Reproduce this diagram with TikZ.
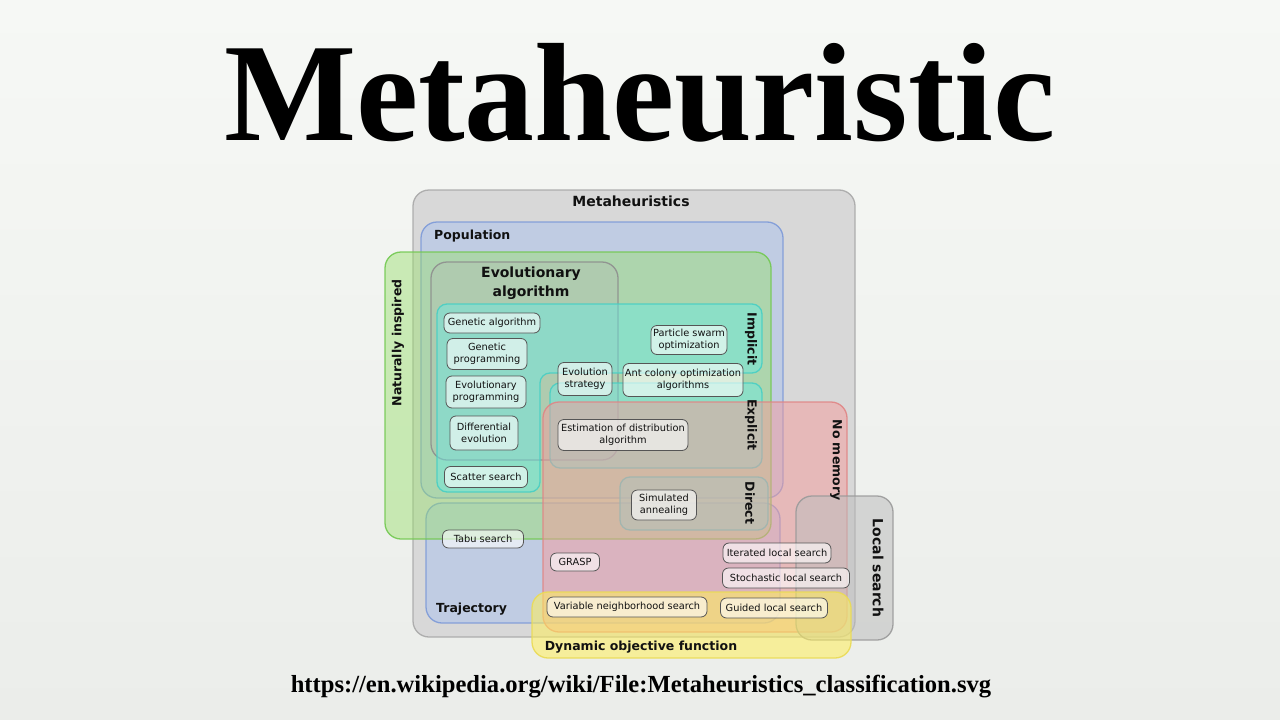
\documentclass[tikz,border=0pt]{standalone}
\usepackage{fontspec}
\setmainfont{Liberation Serif}
\setsansfont{DejaVu Sans}
\usepackage{xcolor}
\usetikzlibrary{positioning}
\definecolor{bgtop}{HTML}{F6F8F5}
\definecolor{bgbot}{HTML}{EBEDEA}
\definecolor{metafill}{HTML}{D8D8D8}
\definecolor{metaline}{HTML}{A8A8A8}
\definecolor{popfill}{HTML}{A9C1EF}
\definecolor{popline}{HTML}{7D9AD8}
\definecolor{natfill}{HTML}{98E06C}
\definecolor{natline}{HTML}{72C850}
\definecolor{evofill}{HTML}{B4B4B4}
\definecolor{evoline}{HTML}{8E8E8E}
\definecolor{tealfill}{HTML}{66ECE6}
\definecolor{tealline}{HTML}{48CFC4}
\definecolor{memfill}{HTML}{F59C9C}
\definecolor{memline}{HTML}{E08585}
\definecolor{lsfill}{HTML}{BEBEBE}
\definecolor{lsline}{HTML}{9A9A9A}
\definecolor{dynfill}{HTML}{FFEF5A}
\definecolor{dynline}{HTML}{EADB55}
\definecolor{algoline}{HTML}{555555}
\definecolor{inkdark}{HTML}{111111}

\tikzset{
  region/.style 2 args={draw=#1line, fill=#1fill, fill opacity=#2, draw opacity=0.9,
    rounded corners=16pt, line width=1.3pt},
  grplbl/.style={inkdark, inner sep=0pt, font=\sffamily\bfseries\fontsize{12.5}{14}\selectfont},
  biglbl/.style={grplbl, font=\sffamily\bfseries\fontsize{14}{19}\selectfont, align=center},
  algo/.style={draw=algoline, line width=0.8pt, fill=white, fill opacity=0.6, text opacity=1,
    rounded corners=6pt, inner sep=2pt, align=center, text=inkdark,
    font=\sffamily\fontsize{9.8}{12}\selectfont}
}

\begin{document}
\begin{tikzpicture}[x=1pt, y=-1pt]
    \useasboundingbox (0,0) rectangle (1280,720);
    \shade[top color=bgtop, bottom color=bgbot] (0,0) rectangle (1280,720);

    % ── Title and source ─────────────────────────────────────────────────────
    \node[anchor=base, inner sep=0pt, font=\fontsize{140}{140}\selectfont\bfseries] (title)
      at (640,140) {Metaheuristic};
    \node[anchor=base, inner sep=0pt, font=\fontsize{24.6}{26}\selectfont\bfseries] (source)
      at (641,692) {https://en.wikipedia.org/wiki/File:Metaheuristics\_classification.svg};

    % ── Regions (back to front) ──────────────────────────────────────────────
    \draw[region={meta}{1}]    (413,190) rectangle (855,637);
    \draw[region={pop}{0.5}]   (421,222) rectangle (783,498);
    \draw[region={pop}{0.5}]   (426,503) rectangle (780,623);
    \draw[region={nat}{0.45}]  (385,252) rectangle (771,539);
    \draw[region={evo}{0.3}]   (431,262) rectangle (618,460);
    \draw[region={teal}{0.45}, rounded corners=10pt]
      (437,304) -- (762,304) -- (762,373) -- (540,373) -- (540,492) -- (437,492) -- cycle;
    \draw[region={teal}{0.45}, rounded corners=10pt] (550,383) rectangle (762,468);
    \draw[region={teal}{0.45}, rounded corners=10pt] (620,477) rectangle (768,530);
    \draw[region={mem}{0.5}]   (543,402) rectangle (847,632);
    \draw[region={ls}{0.55}]   (796,496) rectangle (893,640);
    \draw[region={dyn}{0.55}]  (532,592) rectangle (851,658);

    % ── Region labels ────────────────────────────────────────────────────────
    \node[biglbl] (lblmeta) at (631,201) {Metaheuristics};
    \node[grplbl, anchor=west] (lblpop) at (434,236) {Population};
    \node[grplbl, rotate=90] (lblnat) at (398,343) {Naturally inspired};
    \node[biglbl] (lblevo) at (531,283) {Evolutionary\\algorithm};
    \node[grplbl, rotate=-90] (lblimpl) at (751,339) {Implicit};
    \node[grplbl, rotate=-90] (lblexpl) at (751,425) {Explicit};
    \node[grplbl, rotate=-90] (lbldirect) at (750,503) {Direct};
    \node[grplbl, rotate=-90] (lblmem) at (836,460) {No memory};
    \node[biglbl, rotate=-90] (lblls) at (878,568) {Local search};
    \node[grplbl, anchor=west] (lbltraj) at (436,609) {Trajectory};
    \node[grplbl] (lbldyn) at (641,647) {Dynamic objective function};

    % ── Algorithms ───────────────────────────────────────────────────────────
    \foreach \nm/\cx/\cy/\w/\h/\txt in {
        ga/492/323/96/20/{Genetic algorithm},
        gp/487/354/80/31/{Genetic\\programming},
        ep/486/392/80/32/{Evolutionary\\programming},
        de/484/433/68/34/{Differential\\evolution},
        ss/486/477/83/21/{Scatter search},
        es/585/379/54/33/{Evolution\\strategy},
        pso/689/340/76/29/{Particle swarm\\optimization},
        aco/683/380/120/33/{Ant colony optimization\\algorithms},
        eda/623/435/130/31/{Estimation of distribution\\algorithm},
        sa/664/505/65/30/{Simulated\\annealing},
        tabu/483/539/81/18/{Tabu search},
        grasp/575/562/49/18/{GRASP},
        ils/777/553/108/20/{Iterated local search},
        sls/786/578/127/20/{Stochastic local search},
        vns/627/607/160/20/{Variable neighborhood search},
        gls/774/608/107/20/{Guided local search}} {
      \node[algo, minimum width=\w pt, minimum height=\h pt] (\nm) at (\cx,\cy) {\txt};
    }
\end{tikzpicture}
\end{document}
